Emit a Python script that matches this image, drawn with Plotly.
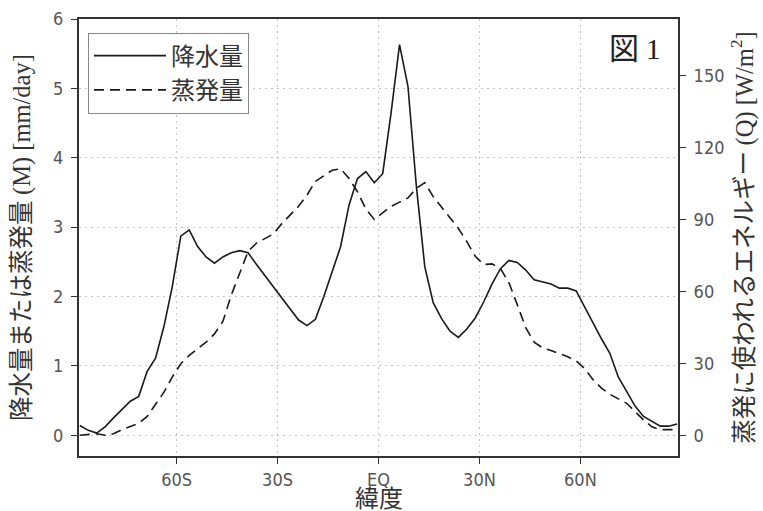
import plotly.graph_objects as go

LV = 28.94  # W/m2 per mm/day

lat = [-88.75, -86.25, -83.75, -81.25, -78.75, -76.25, -73.75, -71.25, -68.75, -66.25,
       -63.75, -61.25, -58.75, -56.25, -53.75, -51.25, -48.75, -46.25, -43.75, -41.25,
       -38.75, -36.25, -33.75, -31.25, -28.75, -26.25, -23.75, -21.25, -18.75, -16.25,
       -13.75, -11.25, -8.75, -6.25, -3.75, -1.25, 1.25, 3.75, 6.25, 8.75,
       11.25, 13.75, 16.25, 18.75, 21.25, 23.75, 26.25, 28.75, 31.25, 33.75,
       36.25, 38.75, 41.25, 43.75, 46.25, 48.75, 51.25, 53.75, 56.25, 58.75,
       61.25, 63.75, 66.25, 68.75, 71.25, 73.75, 76.25, 78.75, 81.25, 83.75,
       86.25, 88.75]

precip = [0.14, 0.07, 0.03, 0.12, 0.25, 0.37, 0.49, 0.56, 0.92, 1.11,
          1.57, 2.15, 2.87, 2.96, 2.72, 2.57, 2.48, 2.57, 2.63, 2.66,
          2.63, 2.46, 2.30, 2.14, 1.98, 1.82, 1.66, 1.58, 1.67, 2.00,
          2.37, 2.72, 3.32, 3.70, 3.80, 3.64, 3.77, 4.65, 5.63, 5.03,
          3.59, 2.43, 1.91, 1.68, 1.50, 1.41, 1.53, 1.69, 1.92, 2.18,
          2.40, 2.52, 2.49, 2.38, 2.24, 2.21, 2.18, 2.12, 2.12, 2.08,
          1.84, 1.62, 1.39, 1.18, 0.84, 0.62, 0.42, 0.27, 0.20, 0.13,
          0.13, 0.16]

evap = [0.00, 0.01, 0.02, 0.00, 0.02, 0.08, 0.12, 0.17, 0.27, 0.44,
        0.62, 0.84, 1.03, 1.15, 1.25, 1.34, 1.46, 1.64, 2.02, 2.33,
        2.65, 2.77, 2.83, 2.90, 3.05, 3.17, 3.30, 3.46, 3.66, 3.74,
        3.82, 3.84, 3.70, 3.51, 3.26, 3.11, 3.20, 3.30, 3.36, 3.42,
        3.56, 3.64, 3.44, 3.29, 3.14, 2.98, 2.79, 2.58, 2.46, 2.47,
        2.40, 2.20, 1.88, 1.55, 1.34, 1.26, 1.22, 1.18, 1.13, 1.07,
        0.96, 0.80, 0.68, 0.59, 0.53, 0.46, 0.34, 0.22, 0.12, 0.08,
        0.08, 0.08]

xtick_vals = [-60, -30, 0, 30, 60]
xtick_text = ["60S", "30S", "EQ", "30N", "60N"]
ytick_vals = [0, 1, 2, 3, 4, 5, 6]
y2tick_vals = [0, 30, 60, 90, 120, 150]

y_range = [-0.3, 6.0]

TICKFONT = dict(family="DejaVu Sans Condensed, DejaVu Sans", size=18, color="#555555")
JP = "Noto Sans CJK JP"
TITLEFONT = dict(family=JP, size=24.5, color="#333333")
GRID = dict(showgrid=True, gridcolor="#c4c4c4", griddash="2px,4px", gridwidth=1)

fig = go.Figure()
fig.add_trace(go.Scatter(x=lat, y=precip, mode="lines", name="降水量", legendgroup="p",
                         line=dict(color="#1a1a1a", width=1.6)))
fig.add_trace(go.Scatter(x=lat, y=evap, mode="lines", name="蒸発量", legendgroup="e",
                         line=dict(color="#1a1a1a", width=1.6, dash="10px,6px")))
fig.add_trace(go.Scatter(x=[lat[0]], y=[evap[0] * LV], yaxis="y2", mode="lines",
                         showlegend=False, hoverinfo="skip", line=dict(width=0)))

fig.update_layout(
    width=763, height=511,
    margin=dict(l=79, r=85, t=19, b=55),
    plot_bgcolor="white", paper_bgcolor="white",
    font=dict(family=JP, color="#333333"),
    showlegend=True,
    legend=dict(x=0.015, y=0.969, xanchor="left", yanchor="top",
                bordercolor="#888888", borderwidth=1, bgcolor="white",
                font=dict(family=JP, size=24, color="#333333"),
                itemwidth=72, tracegroupgap=0),
    xaxis=dict(range=[-89, 89], tickmode="array", tickvals=xtick_vals, ticktext=xtick_text,
               showline=True, linecolor="#333333", linewidth=2, mirror=True,
               ticks="outside", ticklen=6, tickcolor="#333333", tickfont=TICKFONT,
               zeroline=False, automargin=False, **GRID),
    yaxis=dict(range=y_range, tickmode="array", tickvals=ytick_vals,
               showline=True, linecolor="#333333", linewidth=2,
               ticks="outside", ticklen=6, tickcolor="#333333", tickfont=TICKFONT,
               ticklabelstandoff=4,
               zeroline=False, automargin=False, **GRID,
               title=dict(text="降水量または蒸発量 <span style='font-family:Liberation Serif'>(M) [mm/day]</span>",
                          font=TITLEFONT, standoff=16)),
    yaxis2=dict(range=[y_range[0] * LV, y_range[1] * LV], overlaying="y", side="right",
                tickmode="array", tickvals=y2tick_vals, showgrid=False,
                showline=True, linecolor="#333333", linewidth=2,
                ticks="outside", ticklen=6, tickcolor="#333333", tickfont=TICKFONT,
                ticklabelstandoff=4,
                zeroline=False, automargin=False,
                title=dict(text="蒸発に使われるエネルギー <span style='font-family:Liberation Serif'>(Q) [W/m<sup>2</sup>]</span>",
                           font=TITLEFONT, standoff=12)),
    annotations=[
        dict(text="図 <span style='font-family:Liberation Serif'>1</span>",
             xref="paper", yref="paper", x=0.975, y=0.994,
             xanchor="right", yanchor="top", showarrow=False,
             font=dict(family=JP, size=30, color="#222222")),
        dict(text="緯度", xref="paper", yref="paper", x=0.5, y=-0.049,
             xanchor="center", yanchor="top", showarrow=False,
             font=dict(family=JP, size=24, color="#333333")),
    ],
)

fig.write_html("out.html", config={"displayModeBar": False},
               post_script="document.body.style.margin='0';document.body.style.overflow='hidden';")
